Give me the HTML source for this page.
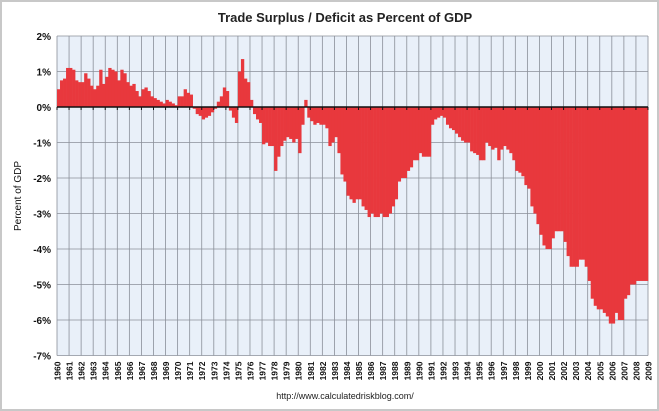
<!DOCTYPE html>
<html><head><meta charset="utf-8"><style>
body{margin:0;background:#fff;font-family:"Liberation Sans",sans-serif}
svg{display:block}
</style></head><body>
<svg id="c" width="659" height="411">
<rect x="1" y="1" width="657" height="409" fill="#fff" stroke="#c8c8c8" stroke-width="2"/>
<text x="345" y="22" text-anchor="middle" font-size="13" font-weight="bold" fill="#222">Trade Surplus / Deficit as Percent of GDP</text>
<text transform="translate(21,196) rotate(-90)" text-anchor="middle" font-size="10" fill="#111">Percent of GDP</text>
<text x="345" y="399" text-anchor="middle" font-size="9" fill="#222">http://www.calculatedriskblog.com/</text>
<g id="plot"></g>
</svg>
<script>
const startYear = 1960;
const yearLabels = [];
for (let y = 1960; y <= 2009; y++) yearLabels.push(String(y));
const yTicks = [2,1,0,-1,-2,-3,-4,-5,-6,-7];
const values = [
0.5,0.75,0.8,1.1, 1.1,1.05,0.75,0.7, 0.7,0.95,0.8,0.6, 0.5,0.6,1.05,0.65,
0.85,1.1,1.05,1.0, 0.75,1.05,0.95,0.7, 0.6,0.65,0.45,0.3, 0.5,0.55,0.45,0.3,
0.25,0.2,0.15,0.1, 0.2,0.15,0.1,0.05, 0.3,0.3,0.5,0.4, 0.35,-0.05,-0.2,-0.25,
-0.35,-0.3,-0.25,-0.15, -0.05,0.15,0.3,0.55, 0.45,-0.1,-0.3,-0.45, 1.0,1.35,0.8,0.7,
0.2,-0.2,-0.35,-0.45, -1.05,-1.0,-1.1,-1.1, -1.8,-1.4,-1.1,-0.95, -0.85,-0.9,-1.0,-0.9,
-1.3,-0.5,0.2,-0.3, -0.4,-0.5,-0.45,-0.5, -0.5,-0.6,-1.1,-1.0, -0.85,-1.3,-1.9,-2.1,
-2.5,-2.6,-2.7,-2.6, -2.6,-2.8,-2.9,-3.1, -3.0,-3.1,-3.1,-3.0, -3.1,-3.1,-3.0,-2.8,
-2.6,-2.1,-2.0,-2.0, -1.8,-1.7,-1.5,-1.5, -1.3,-1.4,-1.4,-1.4, -0.5,-0.35,-0.3,-0.25,
-0.3,-0.5,-0.6,-0.65, -0.75,-0.85,-0.95,-1.0, -1.0,-1.25,-1.3,-1.35, -1.5,-1.5,-1.0,-1.1,
-1.2,-1.15,-1.5,-1.2, -1.1,-1.2,-1.3,-1.5, -1.8,-1.85,-1.95,-2.2, -2.3,-2.8,-3.0,-3.3,
-3.6,-3.9,-4.0,-4.0, -3.7,-3.5,-3.5,-3.5, -3.8,-4.2,-4.5,-4.5, -4.5,-4.3,-4.3,-4.5,
-4.9,-5.4,-5.6,-5.7, -5.7,-5.8,-5.9,-6.1, -6.1,-5.8,-6.0,-6.0, -5.4,-5.3,-5.0,-5.0,
-4.9,-4.9,-4.9,-4.9
];
const X0=57, X1=648, Y0=36, Y1=355.5, VMAX=2, VMIN=-7;
const yrW=(X1-X0)/(yearLabels.length-1);
const xOf = t => X0 + (t-startYear)*yrW;
const yOf = v => Y0 + (VMAX-v)/(VMAX-VMIN)*(Y1-Y0);
const NS="http://www.w3.org/2000/svg";
const g=document.getElementById('plot');
function mk(tag,attrs){const e=document.createElementNS(NS,tag);for(const k in attrs)e.setAttribute(k,attrs[k]);g.appendChild(e);return e;}
const bg=mk('rect',{x:X0,y:Y0,width:X1-X0,height:Y1-Y0,fill:'#e9f0f9'});


yearLabels.forEach((lab,i)=>{
  const x=xOf(startYear+i);
  const l=mk('line',{x1:x,x2:x,y1:Y0,y2:Y1,stroke:'#8a8f99','stroke-width':0.8});
  
  
  const t=mk('text',{transform:`translate(${x+3.5},${Y1+6}) rotate(-90)`,'text-anchor':'end','font-size':'8.5','font-weight':'bold',fill:'#111'});
  t.textContent=lab;
  
  
});
yTicks.forEach(v=>{
  const y=yOf(v);
  const l=mk('line',{x1:X0,x2:X1,y1:y,y2:y,stroke:'#8a8f99','stroke-width':0.8});
  
  
  const t=mk('text',{x:X0-6,y:y+4,'text-anchor':'end','font-size':'10','font-weight':'bold',fill:'#111'});
  t.textContent=v+'%';
  
  
});
const qW=yrW/4;
values.forEach((v,i)=>{
  const x=xOf(startYear+i/4);
  const y0=yOf(0), y=yOf(v);
  const b=mk('rect',{x:x,y:Math.min(y,y0),width:qW+0.3,height:Math.abs(y-y0),fill:'#e8383d'});
  
  
});
const z=mk('line',{x1:X0,x2:X1,y1:yOf(0),y2:yOf(0),stroke:'#111','stroke-width':1.5});


yearLabels.forEach((lab,i)=>{
  const x=xOf(startYear+i);
  const tk=mk('line',{x1:x,x2:x,y1:yOf(0),y2:yOf(0)+3,stroke:'#111','stroke-width':1});
  
  
});
</script>
</body></html>
